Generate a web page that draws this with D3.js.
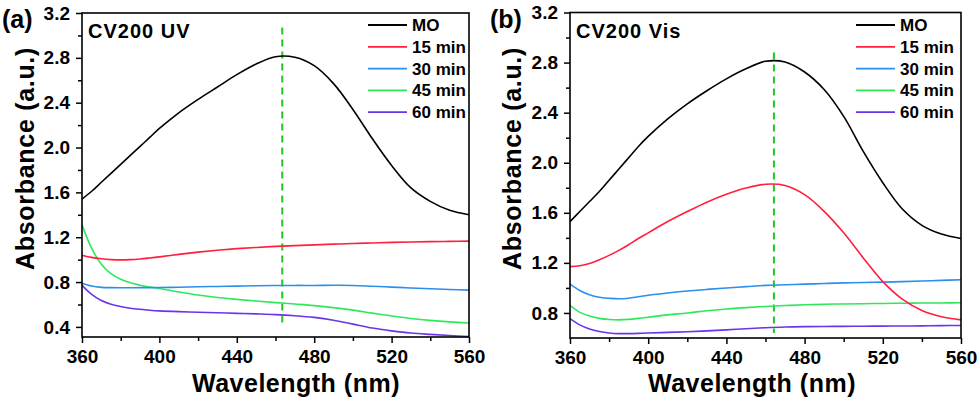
<!DOCTYPE html>
<html>
<head>
<meta charset="utf-8">
<script src="https://cdn.jsdelivr.net/npm/d3@7"></script>
<style>
  body { margin: 0; background: #fff; }
  svg text { font-family: "Liberation Sans", Arial, sans-serif; font-weight: bold; fill: #000; }
</style>
</head>
<body>
<div id="chart"></div>
<script>
// Absorbance spectra, CV200 under UV (a) and visible light (b)

const wavelength = [360, 365, 370, 375, 380, 385, 390, 395, 400, 410, 420, 430, 440, 450, 460, 470, 480, 490, 500, 510, 520, 530, 540, 550, 560];
const seriesNames = ["MO", "15 min", "30 min", "45 min", "60 min"];

// panel (a) UV
const uvMO  = [1.54, 1.61, 1.69, 1.77, 1.85, 1.93, 2.01, 2.09, 2.17, 2.31, 2.43, 2.54, 2.65, 2.745, 2.81, 2.805, 2.73, 2.57, 2.34, 2.08, 1.84, 1.64, 1.52, 1.44, 1.40];
const uv15  = [1.04, 1.02, 1.008, 1.00, 0.998, 1.00, 1.006, 1.015, 1.025, 1.047, 1.067, 1.084, 1.098, 1.109, 1.118, 1.125, 1.132, 1.138, 1.144, 1.149, 1.154, 1.158, 1.161, 1.163, 1.165];
const uv30  = [0.79, 0.765, 0.753, 0.75, 0.749, 0.749, 0.75, 0.75, 0.751, 0.754, 0.758, 0.761, 0.764, 0.767, 0.769, 0.77, 0.77, 0.771, 0.77, 0.763, 0.755, 0.747, 0.74, 0.734, 0.728];
const uv45  = [1.31, 1.10, 0.96, 0.875, 0.825, 0.793, 0.772, 0.756, 0.742, 0.712, 0.684, 0.662, 0.646, 0.631, 0.617, 0.604, 0.59, 0.572, 0.55, 0.523, 0.497, 0.475, 0.458, 0.445, 0.435];
const uv60  = [0.77, 0.69, 0.635, 0.602, 0.582, 0.567, 0.557, 0.549, 0.543, 0.536, 0.531, 0.526, 0.521, 0.516, 0.51, 0.50, 0.485, 0.46, 0.425, 0.39, 0.365, 0.345, 0.333, 0.323, 0.315];

// panel (b) Vis
const visMO = [1.53, 1.61, 1.69, 1.77, 1.86, 1.95, 2.04, 2.13, 2.21, 2.35, 2.47, 2.575, 2.67, 2.75, 2.81, 2.805, 2.725, 2.585, 2.37, 2.09, 1.84, 1.63, 1.50, 1.43, 1.395];
const vis15 = [1.17, 1.177, 1.195, 1.225, 1.26, 1.30, 1.345, 1.395, 1.44, 1.53, 1.61, 1.685, 1.748, 1.798, 1.828, 1.818, 1.745, 1.612, 1.44, 1.24, 1.05, 0.91, 0.82, 0.77, 0.745];
const vis30 = [1.03, 0.98, 0.945, 0.925, 0.917, 0.913, 0.918, 0.93, 0.942, 0.96, 0.975, 0.988, 1.00, 1.01, 1.02, 1.025, 1.03, 1.035, 1.04, 1.043, 1.046, 1.05, 1.055, 1.06, 1.065];
const vis45 = [0.86, 0.805, 0.775, 0.757, 0.748, 0.745, 0.749, 0.757, 0.766, 0.785, 0.80, 0.818, 0.832, 0.843, 0.852, 0.859, 0.865, 0.869, 0.872, 0.874, 0.876, 0.878, 0.879, 0.88, 0.882];
const vis60 = [0.755, 0.705, 0.672, 0.652, 0.64, 0.635, 0.635, 0.637, 0.64, 0.645, 0.65, 0.657, 0.665, 0.674, 0.682, 0.688, 0.691, 0.692, 0.693, 0.694, 0.695, 0.696, 0.697, 0.699, 0.70];

// peak marker (dashed line): wavelength and absorbance span
const peakUV = [463.5, 0.44, 3.07];
const peakVis = [464.3, 0.64, 2.88];

const xTicks = [360, 400, 440, 480, 520, 560];
const xMinor = [380, 420, 460, 500, 540];
const yTicksUV = [0.4, 0.8, 1.2, 1.6, 2.0, 2.4, 2.8, 3.2];
const yMinorUV = [0.6, 1.0, 1.4, 1.8, 2.2, 2.6, 3.0];
const yTicksVis = [0.8, 1.2, 1.6, 2.0, 2.4, 2.8, 3.2];
const yMinorVis = [1.0, 1.4, 1.8, 2.2, 2.6, 3.0];

const colors = ["#000000", "#ff1f3d", "#2b8fec", "#2ee85a", "#6a35e8"];

const svg = d3.select("#chart").append("svg")
    .attr("width", 980)
    .attr("height", 399);

const panels = [
    { tag: "(a)", title: "CV200 UV", series: [uvMO, uv15, uv30, uv45, uv60], yDomain: [0.31, 3.2],
      yTicks: yTicksUV, yMinor: yMinorUV, peak: peakUV,
      left: 82, right: 469, top: 13, bottom: 337, tagX: 2, xTitleX: 192, yTitleX: 34, legendX: 368 },
    { tag: "(b)", title: "CV200 Vis", series: [visMO, vis15, vis30, vis45, vis60], yDomain: [0.6, 3.2],
      yTicks: yTicksVis, yMinor: yMinorVis, peak: peakVis,
      left: 570, right: 961, top: 12.5, bottom: 338, tagX: 490, xTitleX: 648, yTitleX: 521, legendX: 856 }
];

panels.forEach(p => drawPanel(p));

function drawPanel(p) {
    const x = d3.scaleLinear().domain([360, 560]).range([p.left, p.right]);
    const y = d3.scaleLinear().domain(p.yDomain).range([p.bottom, p.top]);

    const g = svg.append("g");

    // axes
    g.append("g")
        .attr("transform", `translate(0,${p.bottom})`)
        .call(d3.axisBottom(x).tickValues(xTicks).tickSize(6).tickSizeOuter(0).tickPadding(7).tickFormat(d3.format("d")));
    g.append("g")
        .attr("transform", `translate(0,${p.bottom})`)
        .call(d3.axisBottom(x).tickValues(xMinor).tickSize(4).tickSizeOuter(0).tickFormat(""));

    g.append("g")
        .attr("transform", `translate(${p.left},0)`)
        .call(d3.axisLeft(y).tickValues(p.yTicks).tickSize(6).tickSizeOuter(0).tickPadding(6).tickFormat(d3.format(".1f")));
    g.append("g")
        .attr("transform", `translate(${p.left},0)`)
        .call(d3.axisLeft(y).tickValues(p.yMinor).tickSize(4).tickSizeOuter(0).tickFormat(""));

    g.selectAll(".domain").remove();
    g.selectAll(".tick line").attr("stroke", "#000").attr("stroke-width", 1.5);
    g.selectAll(".tick text")
        .style("font-size", "19px")
        .style("font-family", "'Liberation Sans', Arial, sans-serif")
        .style("font-weight", "bold")
        .attr("fill", "#000");

    // peak marker
    g.append("line")
        .attr("x1", x(p.peak[0]))
        .attr("x2", x(p.peak[0]))
        .attr("y1", y(p.peak[2]))
        .attr("y2", y(p.peak[1]))
        .attr("stroke", "#22c822")
        .attr("stroke-width", 2)
        .attr("stroke-dasharray", "7,5");

    // spectra
    const line = d3.line()
        .x((d, i) => x(wavelength[i]))
        .y(d => y(d))
        .curve(d3.curveCatmullRom.alpha(0.5));

    g.selectAll(".spectrum")
        .data(p.series.slice().reverse())
        .enter().append("path")
        .attr("class", "spectrum")
        .attr("d", line)
        .attr("fill", "none")
        .attr("stroke", (d, i) => colors[p.series.length - 1 - i])
        .attr("stroke-width", 1.6);

    // frame
    g.append("rect")
        .attr("x", p.left)
        .attr("y", p.top)
        .attr("width", p.right - p.left)
        .attr("height", p.bottom - p.top)
        .attr("fill", "none")
        .attr("stroke", "#000")
        .attr("stroke-width", 1.6);

    // legend
    const legend = g.selectAll(".legend")
        .data(seriesNames)
        .enter().append("g")
        .attr("class", "legend")
        .attr("transform", (d, i) => `translate(${p.legendX},${25 + i * 21.8})`);
    legend.append("line")
        .attr("x1", 0).attr("x2", 39)
        .attr("stroke", (d, i) => colors[i])
        .attr("stroke-width", 1.8);
    legend.append("text")
        .attr("x", 44)
        .attr("y", 6)
        .style("font-size", "17px")
        .text(d => d);

    // panel title
    g.append("text")
        .attr("x", p.left + 6)
        .attr("y", 38)
        .style("font-size", "20px")
        .style("letter-spacing", "1px")
        .text(p.title);

    // panel tag
    g.append("text")
        .attr("x", p.tagX)
        .attr("y", 28)
        .style("font-size", "25px")
        .text(p.tag);

    // axis titles
    g.append("text")
        .attr("x", p.xTitleX)
        .attr("y", 392)
        .style("font-size", "25px")
        .style("letter-spacing", "0.5px")
        .text("Wavelength (nm)");

    g.append("text")
        .attr("transform", `translate(${p.yTitleX},270) rotate(-90)`)
        .style("font-size", "25px")
        .style("letter-spacing", "0.7px")
        .text("Absorbance (a.u.)");
}
</script>
</body>
</html>
